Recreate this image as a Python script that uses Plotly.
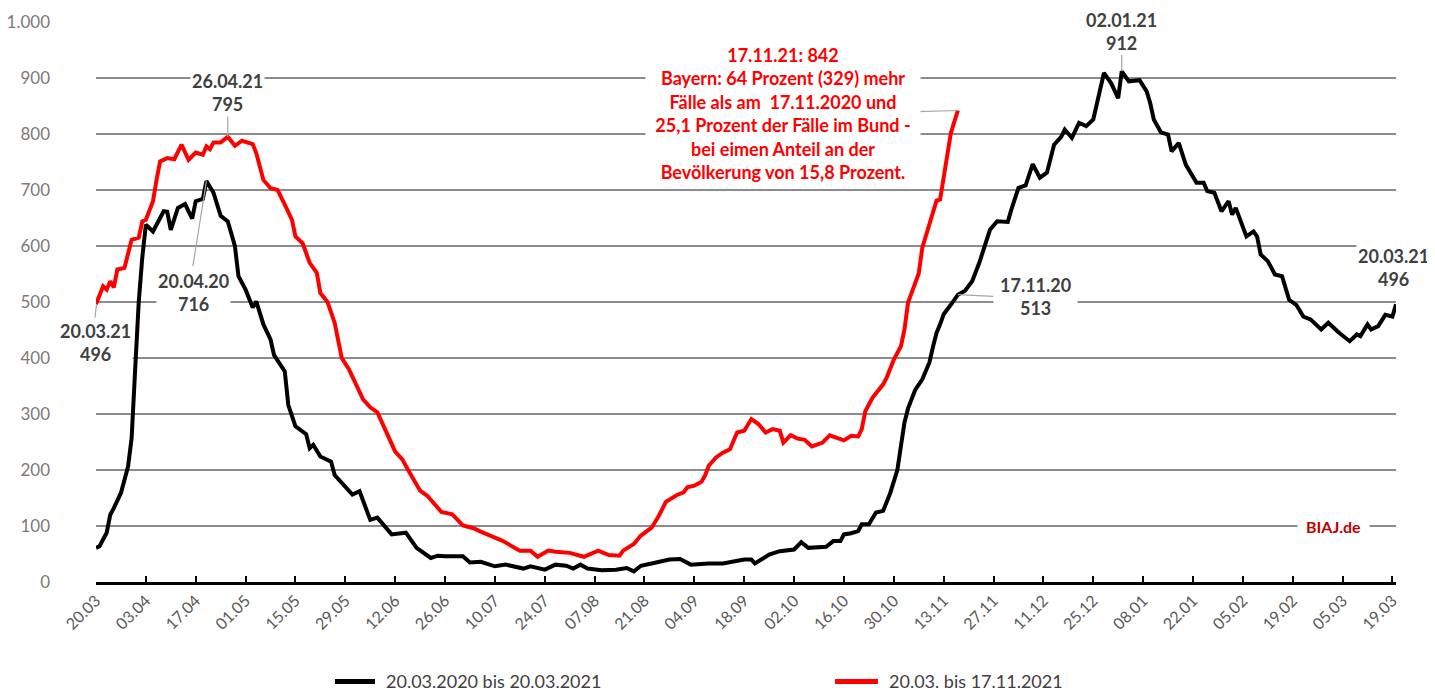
import plotly.graph_objects as go

# ---- data (day index from 20.03.) ----
tick_days = list(range(0, 365, 14))
tick_labels = ["20.03", "03.04", "17.04", "01.05", "15.05", "29.05", "12.06", "26.06",
               "10.07", "24.07", "07.08", "21.08", "04.09", "18.09", "02.10", "16.10",
               "30.10", "13.11", "27.11", "11.12", "25.12", "08.01", "22.01", "05.02",
               "19.02", "05.03", "19.03"]

black_days = [0, 1, 3, 4, 5, 7, 9, 10, 11, 12, 13, 14, 16, 19, 20, 21, 23, 25, 27, 28, 30, 31,
              33, 35, 37, 39, 40, 42, 44, 45, 47, 49, 50, 53, 54, 56, 59, 60, 61, 63, 66, 67,
              72, 74, 77, 79, 83, 87, 90, 94, 96, 98, 103, 105, 108, 112, 115, 120, 122, 126,
              129, 132, 134, 136, 138, 142, 146, 149, 151, 153, 156, 161, 164, 167, 172, 176,
              182, 184, 185, 189, 192, 196, 198, 200, 205, 207, 209, 210, 212, 214, 215, 217,
              219, 221, 223, 225, 226, 227, 228, 230, 232, 233, 234, 235, 236, 237, 238, 240,
              242, 244, 246, 248, 249, 251, 253, 256, 257, 259, 261, 263, 265, 267, 269, 271,
              272, 274, 276, 278, 280, 283, 285, 287, 288, 290, 293, 295, 296, 297, 299, 301,
              302, 304, 306, 309, 311, 312, 314, 316, 318, 319, 320, 323, 325, 326, 327, 329,
              331, 333, 335, 337, 339, 341, 344, 346, 349, 352, 354, 355, 357, 358, 360, 362,
              364, 365]
black_vals = [61, 64, 88, 120, 132, 159, 206, 257, 380, 500, 580, 638, 626, 662, 661, 629, 668,
              675, 649, 680, 684, 716, 695, 654, 644, 600, 546, 522, 490, 501, 460, 433, 405,
              376, 316, 278, 264, 239, 245, 224, 215, 191, 156, 162, 111, 115, 85, 88, 61, 43,
              47, 46, 46, 35, 36, 28, 31, 24, 28, 22, 31, 29, 24, 31, 24, 21, 22, 25, 19, 29,
              33, 40, 41, 31, 33, 33, 40, 40, 33, 49, 55, 58, 71, 61, 63, 73, 73, 85, 87, 91,
              103, 103, 124, 127, 159, 200, 243, 285, 310, 343, 362, 379, 392, 420, 445, 460,
              478, 495, 513, 520, 537, 570, 588, 629, 644, 643, 665, 704, 708, 746, 722, 731,
              781, 795, 808, 793, 820, 814, 826, 909, 891, 864, 912, 894, 896, 876, 855, 826,
              803, 799, 769, 784, 745, 713, 713, 698, 695, 662, 680, 656, 668, 617, 626, 617,
              585, 573, 549, 546, 504, 495, 474, 469, 451, 463, 445, 430, 442, 439, 460, 451,
              457, 477, 474, 496]

red_days = [0, 2, 3, 4, 5, 6, 8, 10, 12, 13, 14, 16, 17, 18, 20, 22, 24, 26, 28, 30, 31, 32,
            33, 35, 37, 39, 41, 44, 45, 47, 49, 51, 53, 55, 56, 58, 60, 62, 63, 65, 67, 69, 71,
            75, 77, 79, 84, 86, 88, 91, 93, 97, 100, 103, 106, 108, 114, 119, 122, 124, 127,
            129, 133, 137, 141, 144, 147, 148, 151, 153, 156, 158, 160, 163, 165, 166, 168,
            170, 171, 172, 174, 176, 178, 179, 180, 182, 184, 186, 188, 190, 192, 193, 195,
            197, 199, 201, 204, 206, 210, 212, 214, 215, 216, 218, 221, 222, 224, 226, 227,
            228, 230, 231, 232, 234, 236, 237, 238, 240, 241, 242]
red_vals = [496, 528, 522, 537, 526, 558, 561, 611, 615, 644, 647, 680, 718, 751, 757, 755, 781,
            754, 767, 763, 778, 773, 785, 785, 795, 779, 788, 782, 766, 718, 703, 700, 674, 647,
            617, 605, 570, 552, 516, 500, 463, 400, 380, 326, 312, 303, 233, 219, 196, 163, 154,
            125, 121, 101, 96, 90, 74, 56, 56, 45, 56, 54, 52, 45, 56, 48, 47, 56, 68, 83, 97,
            118, 143, 155, 160, 169, 172, 179, 190, 207, 222, 231, 237, 252, 267, 270, 291, 282,
            267, 273, 270, 249, 262, 256, 254, 242, 249, 262, 253, 261, 260, 273, 305, 329, 353,
            365, 397, 421, 451, 499, 534, 551, 597, 642, 681, 683, 724, 801, 822, 842]

series_names = ["20.03.2020 bis 20.03.2021", "20.03. bis 17.11.2021"]
series_colors = ["#000000", "#ff0000"]

FONT = "Lato"
LABEL = "#404040"
LEADER = "#a6a6a6"

fig = go.Figure()
fig.add_trace(go.Scatter(x=black_days, y=black_vals, mode="lines", name=series_names[0],
                         line=dict(color=series_colors[0], width=4)))
fig.add_trace(go.Scatter(x=red_days, y=red_vals, mode="lines", name=series_names[1],
                         line=dict(color=series_colors[1], width=4)))

def label(x, y, text, color=LABEL, size=18, **kw):
    fig.add_annotation(x=x, y=y, xref="x", yref="y", text=text, showarrow=False,
                       font=dict(family=FONT, size=size, color=color), bgcolor="white",
                       align="center", **kw)

def leader(x0, y0, x1, y1, ref="x"):
    fig.add_shape(type="line", xref=ref, yref="y", x0=x0, y0=y0, x1=x1, y1=y1,
                  line=dict(color=LEADER, width=1.2))

# data labels with leader lines
leader(37, 795, 37, 838)
label(37, 874, "<b>26.04.21</b><br><b>795</b>")
leader(31, 716, 27.2, 564)
label(27.5, 517, "<b>20.04.20</b><br><b>716</b>")
leader(0.0004, 496, -0.0008, 472, ref="paper")
label(0, 427, "<b>20.03.21</b><br><b>496</b>", xshift=-1)
leader(288, 912, 288, 941)
label(288, 983, "<b>02.01.21</b><br><b>912</b>", borderpad=0)
leader(242, 513, 252, 510)
label(263.7, 510, "<b>17.11.20</b><br><b>513</b>", borderpad=6)
label(364.4, 562, "<b>20.03.21</b><br><b>496</b>")
leader(242, 842, 230.5, 840)
label(192.9, 837,
      "<b>17.11.21: 842</b><br><b>Bayern: 64 Prozent (329) mehr</b><br>"
      "<b>Fälle als am  17.11.2020 und</b><br><b>25,1 Prozent der Fälle im Bund -</b><br>"
      "<b>bei eimen Anteil an der</b><br><b>Bevölkerung von 15,8 Prozent.</b>",
      color="#ff0000", size=18, width=272)
label(347.4, 100, "<b>BIAJ.de</b>", color="#c00000", size=16, borderpad=8)

# legend drawn below the plot (paper coordinates)
leg_y = -0.1775
leg_items = [(0.1838, 0.2146, 0.2223), (0.5685, 0.6015, 0.6092)]
for (lx0, lx1, tx), name, col in zip(leg_items, series_names, series_colors):
    fig.add_shape(type="line", xref="paper", yref="paper", x0=lx0, x1=lx1, y0=leg_y, y1=leg_y,
                  line=dict(color=col, width=5))
    fig.add_annotation(x=tx, y=leg_y, xref="paper", yref="paper", text=name, showarrow=False,
                       xanchor="left", yanchor="middle", borderpad=0,
                       font=dict(family=FONT, size=18, color=LABEL))

fig.update_layout(
    width=1427, height=684,
    margin=dict(l=88, r=39, t=14, b=110, pad=0, autoexpand=False),
    paper_bgcolor="white", plot_bgcolor="white",
    separators=",.",
    font=dict(family=FONT, color="#595959"),
    showlegend=False,
    xaxis=dict(range=[0, 365], tickmode="array", tickvals=tick_days, ticktext=tick_labels,
               tickangle=-45, showgrid=False, zeroline=False, showline=True, automargin=False,
               linecolor="#000000", linewidth=3, ticks="inside", ticklen=6, tickwidth=2,
               tickcolor="#000000", tickfont=dict(family=FONT, size=16, color="#595959")),
    yaxis=dict(range=[0, 1000], tickmode="linear", tick0=0, dtick=100, tickformat=",d",
               showgrid=True, gridcolor="#8c8c8c", gridwidth=1.6, zeroline=False,
               showline=False, ticks="", ticklabelstandoff=45, automargin=False,
               tickfont=dict(family=FONT, size=17, color="#7a7a7a")),
)

fig.write_html("out.html")
